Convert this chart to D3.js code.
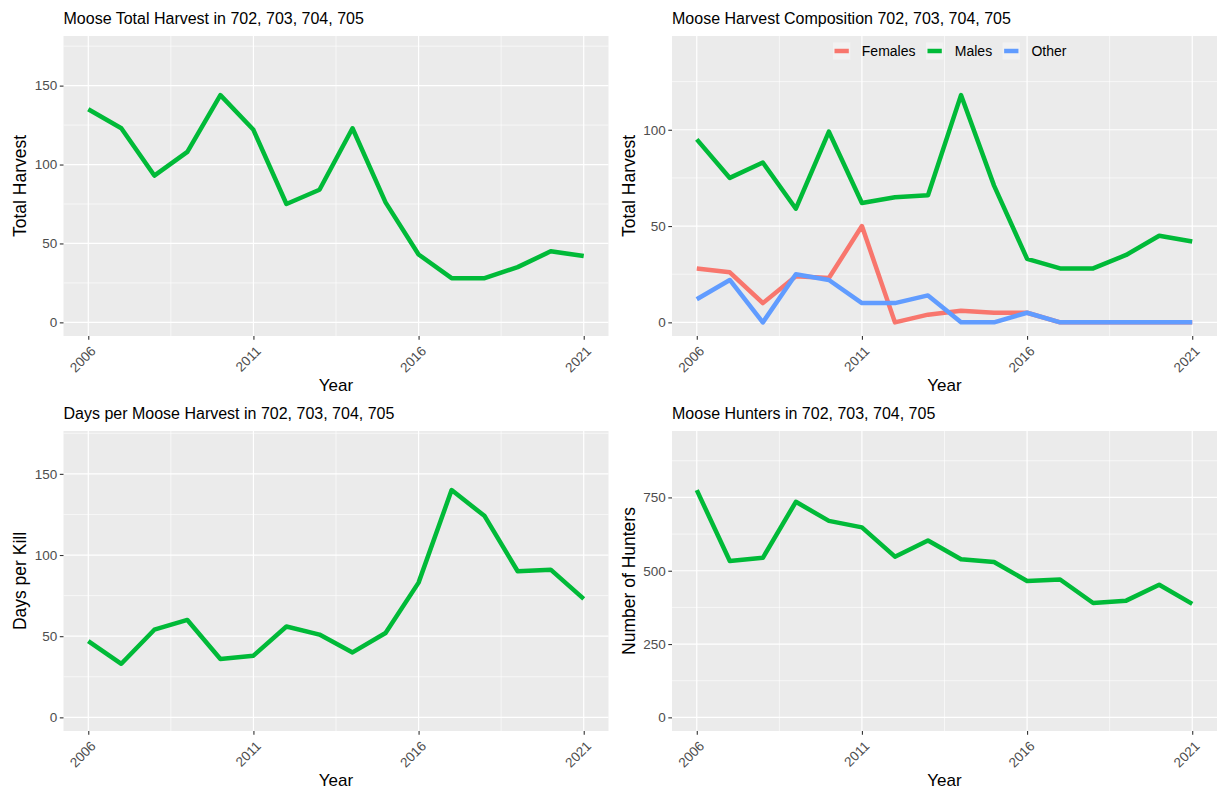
<!DOCTYPE html>
<html>
<head>
<meta charset="utf-8">
<script src="https://cdn.jsdelivr.net/npm/d3@7"></script>
<style>
  html, body { margin: 0; padding: 0; background: #fff; }
  svg { display: block; font-family: "Liberation Sans", Arial, Helvetica, sans-serif; }
</style>
</head>
<body>
<svg id="chart" width="1219" height="789"></svg>
<script>
// Hunting seasons
const years = [2006, 2007, 2008, 2009, 2010, 2011, 2012, 2013, 2014, 2015, 2016, 2017, 2018, 2019, 2020, 2021];
const xTickLabels = [2006, 2011, 2016, 2021];

// Total moose harvest
const totalHarvest = [135, 123, 93, 108, 144, 122, 75, 84, 123, 76, 43, 28, 28, 35, 45, 42];

// Harvest composition
const compositionNames = ["Females", "Males", "Other"];
const femalesHarvest = [28, 26, 10, 24, 23, 50, 0, 4, 6, 5, 5, 0, 0, 0, 0, 0];
const malesHarvest   = [95, 75, 83, 59, 99, 62, 65, 66, 118, 71, 33, 28, 28, 35, 45, 42];
const otherHarvest   = [12, 22, 0, 25, 22, 10, 10, 14, 0, 0, 5, 0, 0, 0, 0, 0];

// Hunter effort per kill
const daysPerKill = [47, 33, 54, 60, 36, 38, 56, 51, 40, 52, 83, 140, 124, 90, 91, 73];

// Number of hunters
const hunters = [775, 533, 544, 735, 670, 648, 548, 603, 539, 530, 465, 470, 390, 398, 452, 387];

// Y-axis tick labels per panel
const yTicksHarvest = [0, 50, 100, 150];
const yTicksComposition = [0, 50, 100];
const yTicksDays = [0, 50, 100, 150];
const yTicksHunters = [0, 250, 500, 750];

const GREEN = "#00BA38", RED = "#F8766D", BLUE = "#619CFF";
const PANEL_BG = "#EBEBEB";
const PANEL_W = 545, PANEL_H = 300;
const LINE_W = 4.5;
const TICK_FONT = "13.5px";

const svg = d3.select("#chart");

function drawPanel(cfg) {
  const { left, top, title, ylab, series, yTicks } = cfg;
  const g = svg.append("g").attr("transform", `translate(${left},${top})`);

  // scales: y limits 0 .. 1.2 * max, then 5% expansion on both axes
  const yMaxData = d3.max(series, s => d3.max(s.values));
  const yLim = [0, yMaxData * 1.2];
  const yr = yLim[1] - yLim[0];
  const y = d3.scaleLinear().domain([yLim[0] - 0.05 * yr, yLim[1] + 0.05 * yr]).range([PANEL_H, 0]);
  const xr = years[years.length - 1] - years[0];
  const x = d3.scaleLinear().domain([years[0] - 0.05 * xr, years[years.length - 1] + 0.05 * xr]).range([0, PANEL_W]);

  // panel background
  g.append("rect").attr("width", PANEL_W).attr("height", PANEL_H).attr("fill", PANEL_BG);

  // minor grid
  const yStep = yTicks[1] - yTicks[0];
  const yMinor = [];
  for (let v = yTicks[0] - yStep / 2; v <= y.domain()[1]; v += yStep) {
    if (v >= y.domain()[0]) yMinor.push(v);
  }
  const xStep = xTickLabels[1] - xTickLabels[0];
  const xMinor = [];
  for (let v = xTickLabels[0] - xStep / 2; v <= x.domain()[1]; v += xStep) {
    if (v >= x.domain()[0]) xMinor.push(v);
  }
  g.append("g").selectAll("line").data(yMinor).join("line")
    .attr("x1", 0).attr("x2", PANEL_W)
    .attr("y1", d => y(d)).attr("y2", d => y(d))
    .attr("stroke", "#fff").attr("stroke-width", 0.6);
  g.append("g").selectAll("line").data(xMinor).join("line")
    .attr("y1", 0).attr("y2", PANEL_H)
    .attr("x1", d => x(d)).attr("x2", d => x(d))
    .attr("stroke", "#fff").attr("stroke-width", 0.6);

  // major grid
  g.append("g").selectAll("line").data(yTicks).join("line")
    .attr("x1", 0).attr("x2", PANEL_W)
    .attr("y1", d => y(d)).attr("y2", d => y(d))
    .attr("stroke", "#fff").attr("stroke-width", 1.2);
  g.append("g").selectAll("line").data(xTickLabels).join("line")
    .attr("y1", 0).attr("y2", PANEL_H)
    .attr("x1", d => x(d)).attr("x2", d => x(d))
    .attr("stroke", "#fff").attr("stroke-width", 1.2);

  // y axis
  const yAxis = d3.axisLeft(y).tickValues(yTicks).tickSize(3.7).tickPadding(2.5).tickFormat(d3.format("d"));
  const ya = g.append("g").call(yAxis);
  ya.select(".domain").remove();
  ya.selectAll(".tick line").attr("stroke", "#333333").attr("stroke-width", 1.1);
  ya.selectAll(".tick text").attr("fill", "#4D4D4D").style("font-size", TICK_FONT)
    .style("font-family", "'Liberation Sans', Arial, sans-serif");

  // x axis
  const xAxis = d3.axisBottom(x).tickValues(xTickLabels).tickSize(3.7).tickFormat(d3.format("d"));
  const xa = g.append("g").attr("transform", `translate(0,${PANEL_H})`).call(xAxis);
  xa.select(".domain").remove();
  xa.selectAll(".tick line").attr("stroke", "#333333").attr("stroke-width", 1.1);
  xa.selectAll(".tick text")
    .attr("fill", "#4D4D4D").style("font-size", TICK_FONT)
    .style("font-family", "'Liberation Sans', Arial, sans-serif")
    .attr("text-anchor", "end")
    .attr("x", 0).attr("y", 0).attr("dy", "0.72em")
    .attr("transform", "translate(1,9) rotate(-45)");

  // lines
  const line = d3.line().x((d, i) => x(years[i])).y(d => y(d));
  series.forEach(s => {
    g.append("path").datum(s.values)
      .attr("d", line)
      .attr("fill", "none")
      .attr("stroke", s.color)
      .attr("stroke-width", LINE_W)
      .attr("stroke-linejoin", "round");
  });

  // titles
  g.append("text").attr("x", 0).attr("y", -12)
    .style("font-size", "16px").attr("fill", "#000").text(title);
  g.append("text").attr("x", PANEL_W / 2).attr("y", PANEL_H + 55)
    .attr("text-anchor", "middle").style("font-size", "17px").attr("fill", "#000").text("Year");
  g.append("text")
    .attr("transform", `translate(-37.5,${PANEL_H / 2}) rotate(-90)`)
    .attr("text-anchor", "middle").style("font-size", "17.5px").attr("fill", "#000").text(ylab);

  return { g, x, y };
}

// Panel 1: total harvest
drawPanel({
  left: 63.5, top: 36,
  title: "Moose Total Harvest in 702, 703, 704, 705",
  ylab: "Total Harvest",
  yTicks: yTicksHarvest,
  series: [{ values: totalHarvest, color: GREEN }]
});

// Panel 2: harvest composition with legend
const compSeries = [
  { name: compositionNames[0], values: femalesHarvest, color: RED },
  { name: compositionNames[1], values: malesHarvest, color: GREEN },
  { name: compositionNames[2], values: otherHarvest, color: BLUE }
];
const p2 = drawPanel({
  left: 672, top: 36,
  title: "Moose Harvest Composition 702, 703, 704, 705",
  ylab: "Total Harvest",
  yTicks: yTicksComposition,
  series: compSeries
});

// legend inside the top of panel 2
const KEY = 17.3;
const leg = p2.g.append("g").attr("transform", `translate(161,${15 - KEY / 2})`);
let cx = 0;
compSeries.forEach(s => {
  const item = leg.append("g").attr("transform", `translate(${cx},0)`);
  item.append("rect").attr("width", KEY).attr("height", KEY).attr("fill", "#F2F2F2");
  item.append("line").attr("x1", 1.5).attr("x2", KEY - 1.5)
    .attr("y1", KEY / 2).attr("y2", KEY / 2)
    .attr("stroke", s.color).attr("stroke-width", LINE_W);
  const t = item.append("text").attr("x", KEY + 11.5).attr("y", KEY / 2).attr("dy", "0.35em")
    .style("font-size", "14px").attr("fill", "#000").text(s.name);
  cx += KEY + 11.5 + t.node().getComputedTextLength() + 10.5;
});

// Panel 3: days per kill
drawPanel({
  left: 63.5, top: 431,
  title: "Days per Moose Harvest in 702, 703, 704, 705",
  ylab: "Days per Kill",
  yTicks: yTicksDays,
  series: [{ values: daysPerKill, color: GREEN }]
});

// Panel 4: hunters
drawPanel({
  left: 672, top: 431,
  title: "Moose Hunters in 702, 703, 704, 705",
  ylab: "Number of Hunters",
  yTicks: yTicksHunters,
  series: [{ values: hunters, color: GREEN }]
});
</script>
</body>
</html>
